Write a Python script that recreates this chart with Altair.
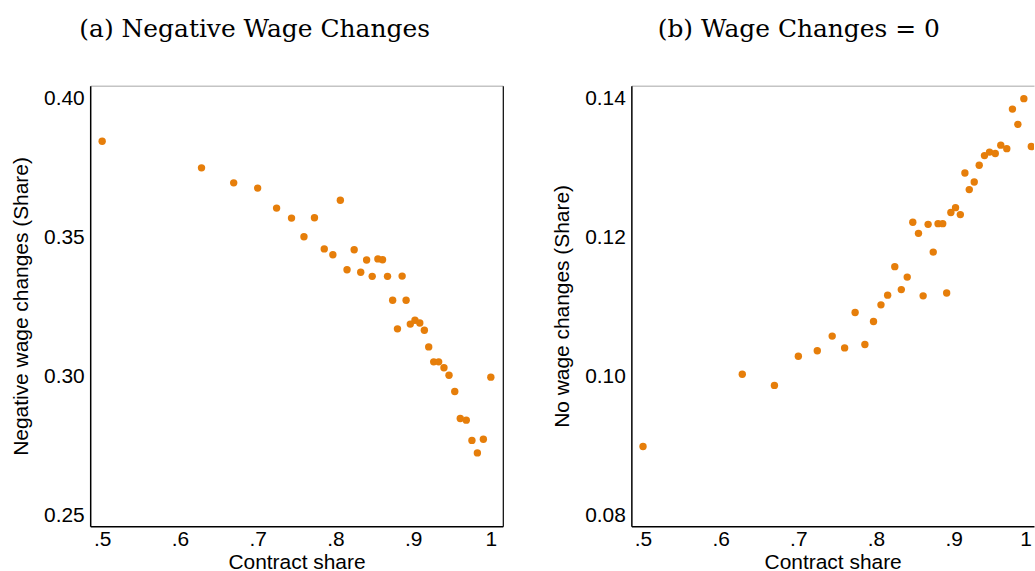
import altair as alt
import pandas as pd

# Binned contract share (x) shared by both panels
contract_share = [
    0.5, 0.6278, 0.6692, 0.700, 0.7244, 0.7436, 0.7596, 0.7731, 0.7857, 0.7968,
    0.8064, 0.8150, 0.8242, 0.8326, 0.8402, 0.8474, 0.8547, 0.8607, 0.8671, 0.8737,
    0.8799, 0.8859, 0.8910, 0.8964, 0.9024, 0.9086, 0.9145, 0.9201, 0.9265, 0.9329,
    0.9397, 0.9462, 0.9536, 0.9607, 0.9684, 0.9757, 0.9827, 0.9904, 1.0,
]

# Share of negative wage changes per bin
negative_share = [
    0.3847, 0.3751, 0.3697, 0.3678, 0.3606, 0.3570, 0.3503, 0.3571, 0.3459, 0.3438,
    0.3634, 0.3384, 0.3456, 0.3375, 0.3419, 0.3360, 0.3423, 0.3420, 0.3360, 0.3274,
    0.3171, 0.3361, 0.3274, 0.3188, 0.3202, 0.3192, 0.3166, 0.3106, 0.3052, 0.3052,
    0.3031, 0.3004, 0.2945, 0.2848, 0.2842, 0.2769, 0.2724, 0.2773, 0.2997,
]

# Share of zero wage changes per bin
zero_share = [
    0.0899, 0.1003, 0.0987, 0.1029, 0.1037, 0.1058, 0.1041, 0.1092, 0.1046, 0.1079,
    0.1103, 0.1117, 0.1158, 0.1125, 0.1143, 0.1222, 0.1206, 0.1116, 0.1219, 0.1179,
    0.1220, 0.1220, 0.1120, 0.1236, 0.1243, 0.1233, 0.1293, 0.1269, 0.1280, 0.1304,
    0.1318, 0.1323, 0.1321, 0.1333, 0.1328, 0.1385, 0.1363, 0.1400, 0.1331,
]

x_ticks = [0.5, 0.6, 0.7, 0.8, 0.9, 1.0]
neg_ticks = [0.25, 0.30, 0.35, 0.40]
zero_ticks = [0.08, 0.10, 0.12, 0.14]

ORANGE = "#E67E0A"
SANS = "Liberation Sans"
SERIF = "DejaVu Serif"
FS = 21
H = 442


def panel(values, title, title_dx, y_title, y_domain, y_ticks, width, x_dom,
          right_edge, flush_last):
    df = pd.DataFrame({"share": contract_share, "value": values})
    xs = alt.Scale(domain=x_dom, nice=False, zero=False)
    ys = alt.Scale(domain=y_domain, nice=False, zero=False)

    label_align = (
        {"condition": {"test": "datum.value == 1", "value": "right"}, "value": "center"}
        if flush_last
        else "center"
    )

    points = alt.Chart(df).mark_circle(
        size=55, color=ORANGE, opacity=1, clip=flush_last
    ).encode(
        x=alt.X(
            "share:Q", scale=xs,
            axis=alt.Axis(
                values=x_ticks, ticks=False, grid=False,
                labelExpr="datum.value == 1 ? '1' : '.' + round(datum.value * 10)",
                labelAlign=label_align,
                labelFont=SANS, labelFontSize=FS, labelColor="black", labelPadding=2,
                domainColor="black", domainWidth=1.5,
                title="Contract share", titleFont=SANS, titleFontSize=FS,
                titleFontWeight="normal", titleColor="black",
                titleY=42, titleBaseline="alphabetic",
            ),
        ),
        y=alt.Y(
            "value:Q", scale=ys,
            axis=alt.Axis(
                values=y_ticks, format=".2f", ticks=False, grid=False,
                labelFont=SANS, labelFontSize=FS, labelColor="black", labelPadding=6,
                domainColor="black", domainWidth=1.5,
                title=y_title, titleFont=SANS, titleFontSize=FS,
                titleFontWeight="normal", titleColor="black",
                titleX=-69, titleY=H / 2, titleBaseline="middle",
            ),
        ),
    )

    frame_y = (
        alt.Y("value:Q", scale=ys,
              axis=alt.Axis(orient="right", labels=False, ticks=False, grid=False,
                            title="", domainColor="black", domainWidth=1.2))
        if right_edge
        else alt.Y("value:Q", scale=ys, axis=None)
    )
    frame = alt.Chart(df).mark_circle(opacity=0, clip=True).encode(
        x=alt.X("share:Q", scale=xs,
                axis=alt.Axis(orient="top", labels=False, ticks=False, grid=False,
                              title="", domainColor="#c4c4c4", domainWidth=1.5)),
        y=frame_y,
    )

    return (
        alt.layer(frame, points)
        .resolve_axis(x="independent", y="independent")
        .properties(
            width=width, height=H,
            title=alt.TitleParams(
                title, font=SERIF, fontSize=25, fontWeight="normal", color="black",
                anchor="middle", dx=title_dx, offset=23.5, baseline="alphabetic",
            ),
        )
    )


left = panel(negative_share, "(a) Negative Wage Changes", -42,
             "Negative wage changes (Share)", [0.246, 0.4047], neg_ticks,
             414, [0.4846, 1.0154], True, False)
right = panel(zero_share, "(b) Wage Changes = 0", -34,
              "No wage changes (Share)", [0.07842, 0.14187], zero_ticks,
              404, [0.48498, 1.00347], False, True)

chart = (
    alt.hconcat(left, right, spacing=47)
    .properties(padding={"left": 9.5, "top": 16, "right": 0, "bottom": 0})
    .configure_view(stroke="transparent")
)

chart.save("out.html", embed_options={"renderer": "svg", "actions": False})
